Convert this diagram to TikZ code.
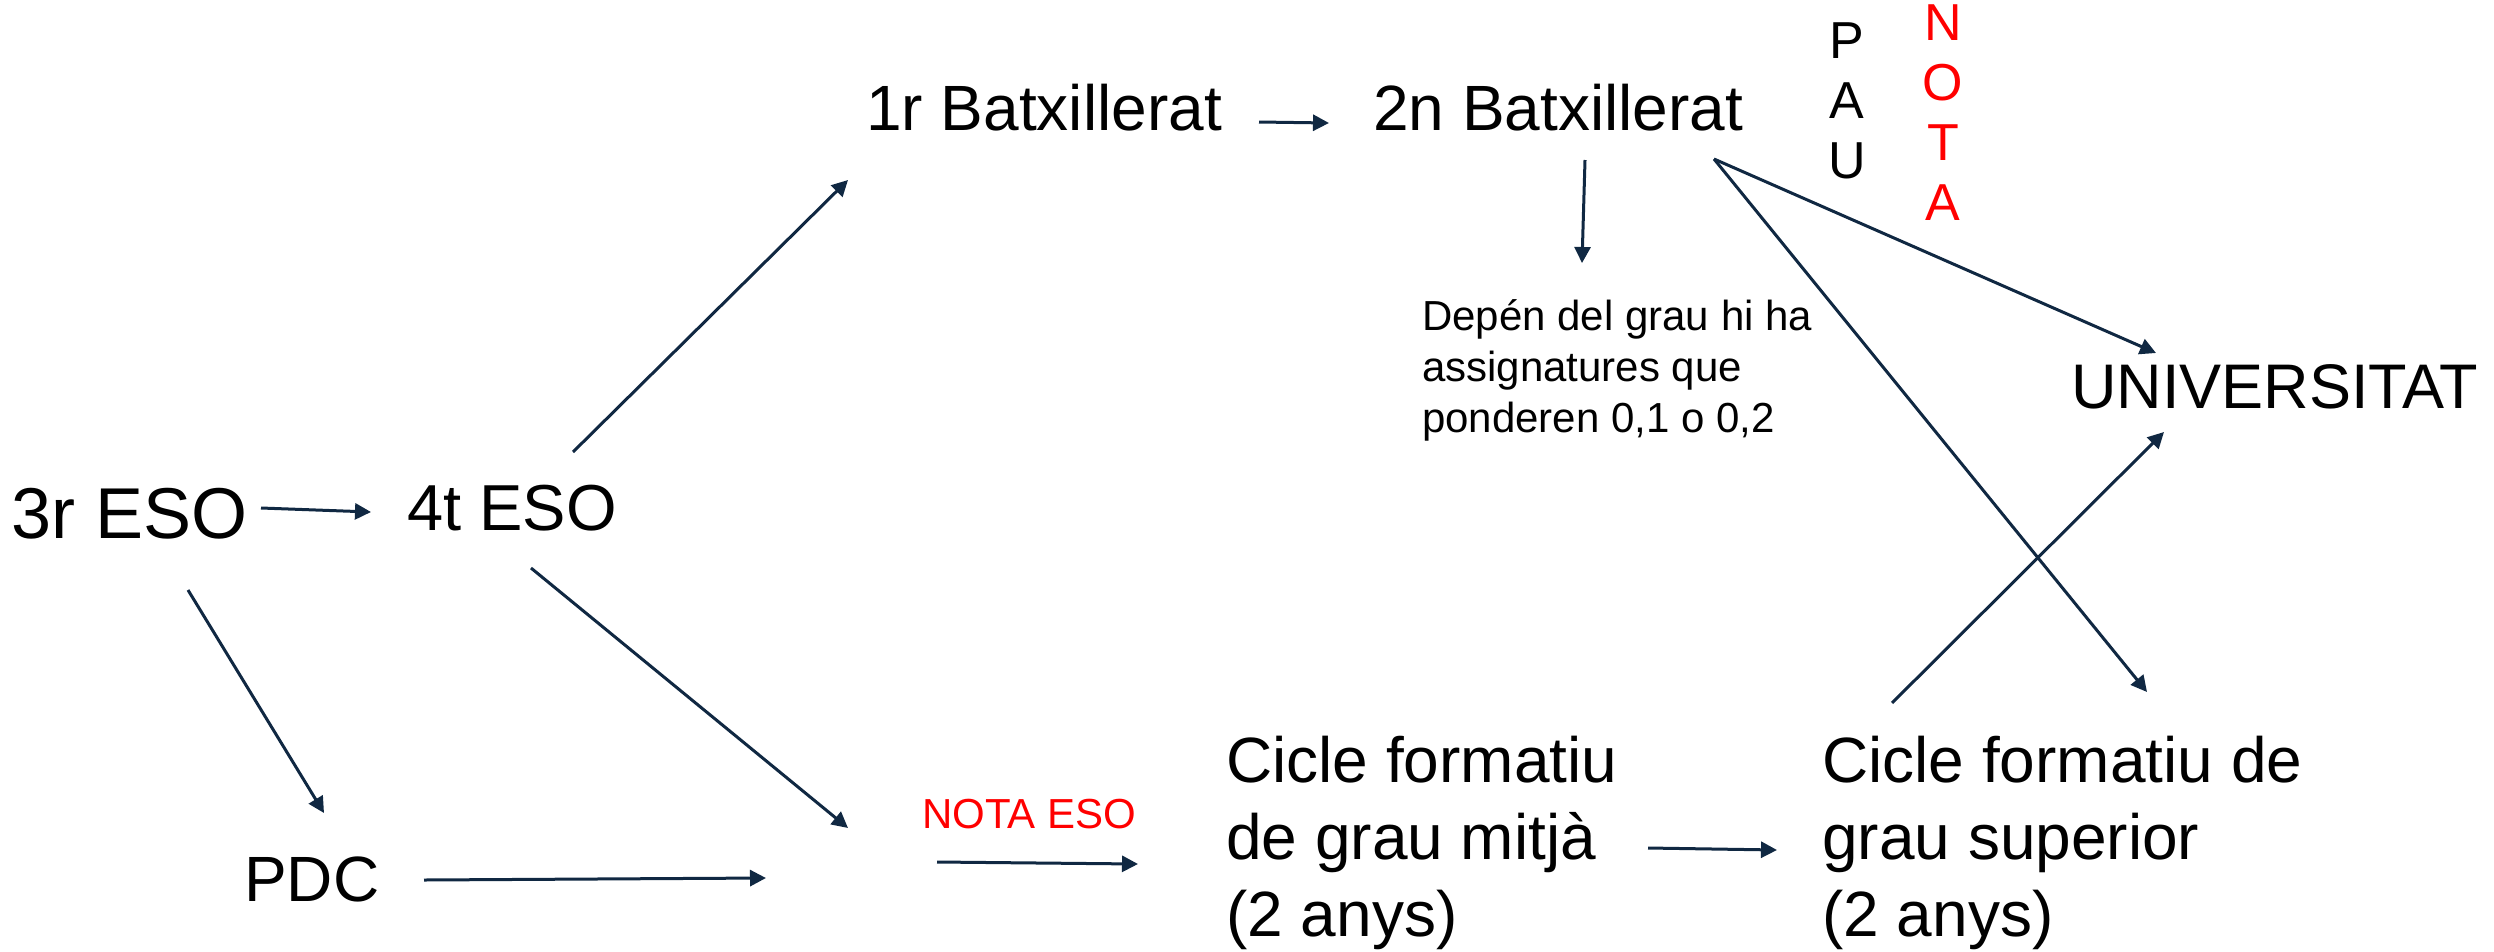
\documentclass[tikz,border=0pt]{standalone}
\usepackage{fontspec}
\setmainfont{Liberation Sans}
\usetikzlibrary{arrows.meta}
\definecolor{navy}{RGB}{16,40,66}
\definecolor{redtxt}{RGB}{255,0,0}
\begin{document}
\begin{tikzpicture}[x=1pt,y=-1pt,
  lbl/.style={inner sep=0pt, anchor=base west, font=\fontsize{64}{77}\selectfont},
  vert/.style={inner sep=0pt, anchor=base, font=\fontsize{52}{60}\selectfont},
  arr/.style={draw=navy, line width=3pt, -{Triangle[length=16pt,width=16pt]}}]
\useasboundingbox (0,0) rectangle (2494,951);
% labels
\node[lbl, font=\fontsize{72}{80}\selectfont] (e3) at (11,538) {3r ESO};
\node[lbl, font=\fontsize{65}{77}\selectfont] (e4) at (407,530) {4t ESO};
\node[lbl] (b1) at (866,130) {1r Batxillerat};
\node[lbl] (b2) at (1373,130) {2n Batxillerat};
\node[vert] (pau) at (1847,58) {\begin{tabular}[t]{@{}c@{}}P\\A\\U\end{tabular}};
\node[vert, text=redtxt] (nota) at (1943,40) {\begin{tabular}[t]{@{}c@{}}N\\O\\T\\A\end{tabular}};
\node[lbl, font=\fontsize{42}{51}\selectfont] (dep) at (1422,330) {\begin{tabular}[t]{@{}l@{}}Depén del grau hi ha\\assignatures que\\ponderen 0,1 o 0,2\end{tabular}};
\node[lbl, font=\fontsize{63}{70}\selectfont] (univ) at (2071,408) {UNIVERSITAT};
\node[lbl] (pdc) at (244,901) {PDC};
\node[lbl, font=\fontsize{42}{50}\selectfont, text=redtxt] (notaeso) at (922,828) {NOTA ESO};
\node[lbl] (cfgm) at (1226,782) {\begin{tabular}[t]{@{}l@{}}Cicle formatiu\\de grau mitjà\\(2 anys)\end{tabular}};
\node[lbl] (cfgs) at (1822,782) {\begin{tabular}[t]{@{}l@{}}Cicle formatiu de\\grau superior\\(2 anys)\end{tabular}};
% connector end points
\coordinate (e3r) at (261,508);  \coordinate (e4l) at (371,512);
\coordinate (e3b) at (188,590);  \coordinate (pdct) at (324,813);
\coordinate (e4t) at (573,452);  \coordinate (b1b) at (848,180);
\coordinate (e4b) at (531,568);  \coordinate (junc) at (848,828);
\coordinate (pdcr) at (424,880); \coordinate (junc2) at (766,878);
\coordinate (nesol) at (937,862); \coordinate (cfgml) at (1138,864);
\coordinate (cfgmr) at (1648,848); \coordinate (cfgsl) at (1777,850);
\coordinate (b1r) at (1259,122); \coordinate (b2l) at (1329,123);
\coordinate (b2b) at (1585,160); \coordinate (dept) at (1582,263);
\coordinate (b2r) at (1714,159); \coordinate (univl) at (2156,353);
\coordinate (cfgst) at (2147,692);
\coordinate (cfgsu) at (1892,703); \coordinate (univb) at (2164,432);
% connectors
\draw[arr] (e3r) -- (e4l);
\draw[arr] (e3b) -- (pdct);
\draw[arr] (e4t) -- (b1b);
\draw[arr] (e4b) -- (junc);
\draw[arr] (pdcr) -- (junc2);
\draw[arr] (nesol) -- (cfgml);
\draw[arr] (cfgmr) -- (cfgsl);
\draw[arr] (b1r) -- (b2l);
\draw[arr] (b2b) -- (dept);
\draw[arr] (b2r) -- (univl);
\draw[arr] (b2r) -- (cfgst);
\draw[arr] (cfgsu) -- (univb);
\end{tikzpicture}
\end{document}
